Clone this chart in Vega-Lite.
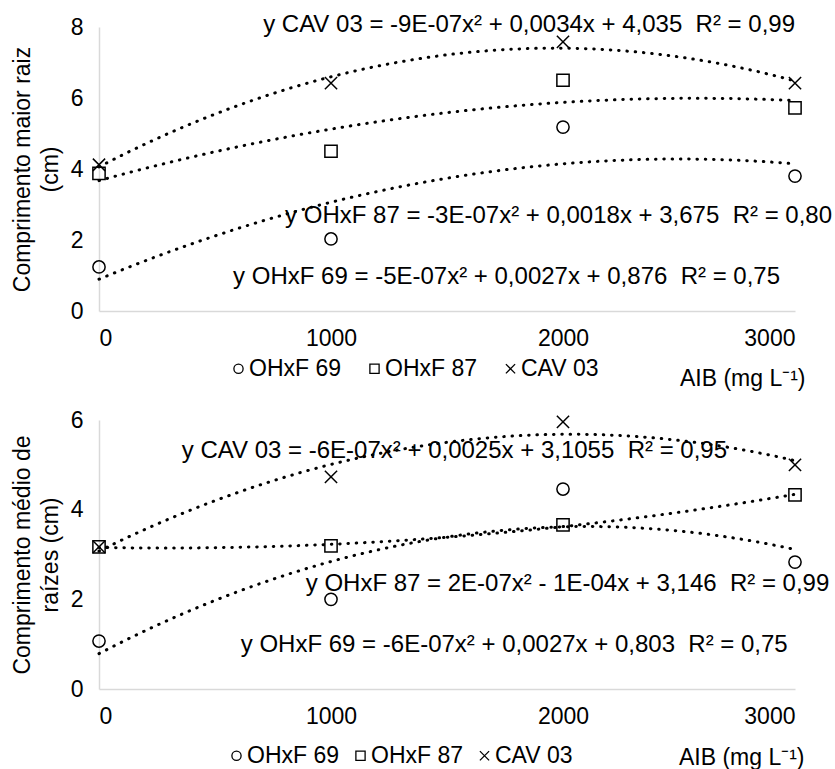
{
  "$schema": "https://vega.github.io/schema/vega-lite/v6.json",
  "padding": {"left": 11, "top": 13, "right": 5, "bottom": 0},
  "background": "white",
  "datasets": {
    "maior": [
      {"AIB": 0, "series": "OHxF 69", "value": 1.24},
      {"AIB": 1000, "series": "OHxF 69", "value": 2.03},
      {"AIB": 2000, "series": "OHxF 69", "value": 5.18},
      {"AIB": 3000, "series": "OHxF 69", "value": 3.8},
      {"AIB": 0, "series": "OHxF 87", "value": 3.88},
      {"AIB": 1000, "series": "OHxF 87", "value": 4.5},
      {"AIB": 2000, "series": "OHxF 87", "value": 6.5},
      {"AIB": 3000, "series": "OHxF 87", "value": 5.72},
      {"AIB": 0, "series": "CAV 03", "value": 4.12},
      {"AIB": 1000, "series": "CAV 03", "value": 6.42},
      {"AIB": 2000, "series": "CAV 03", "value": 7.58},
      {"AIB": 3000, "series": "CAV 03", "value": 6.42}
    ],
    "medio": [
      {"AIB": 0, "series": "OHxF 69", "value": 1.07},
      {"AIB": 1000, "series": "OHxF 69", "value": 2.0},
      {"AIB": 2000, "series": "OHxF 69", "value": 4.46},
      {"AIB": 3000, "series": "OHxF 69", "value": 2.83},
      {"AIB": 0, "series": "OHxF 87", "value": 3.17},
      {"AIB": 1000, "series": "OHxF 87", "value": 3.19},
      {"AIB": 2000, "series": "OHxF 87", "value": 3.66},
      {"AIB": 3000, "series": "OHxF 87", "value": 4.33},
      {"AIB": 0, "series": "CAV 03", "value": 3.17},
      {"AIB": 1000, "series": "CAV 03", "value": 4.73},
      {"AIB": 2000, "series": "CAV 03", "value": 5.96},
      {"AIB": 3000, "series": "CAV 03", "value": 5.0}
    ]
  },
  "config": {
    "font": "Liberation Sans",
    "view": {"stroke": null},
    "axis": {
      "labelFont": "Liberation Sans", "labelFontSize": 23, "labelColor": "#000000",
      "titleFont": "Liberation Sans", "titleFontSize": 23, "titleFontWeight": "normal", "titleColor": "#000000",
      "domainColor": "#d9d9d9", "domainWidth": 1.5, "ticks": false, "grid": false, "labelPadding": 16
    },
    "legend": {
      "labelFont": "Liberation Sans", "labelFontSize": 23, "labelColor": "#000000"
    },
    "text": {"font": "Liberation Sans", "fontSize": 24, "color": "#000000"}
  },
  "bounds": "flush",
  "spacing": 109,
  "resolve": {"scale": {"shape": "independent"}, "legend": {"shape": "independent"}},
  "vconcat": [
    {
      "width": 696, "height": 284,
      "data": {"name": "maior"},
      "layer": [
        {
          "transform": [{"regression": "value", "on": "AIB", "groupby": ["series"], "method": "poly", "order": 2, "extent": [0, 3000]}],
          "mark": {"type": "line", "stroke": "black", "strokeWidth": 3, "strokeDash": [0.5, 7.8], "strokeCap": "round", "interpolate": "monotone"},
          "encoding": {
            "x": {"field": "AIB", "type": "quantitative", "scale": {"domain": [0, 3000]},
                  "axis": {"values": [0, 1000, 2000, 3000], "format": "d", "title": "AIB (mg L⁻¹)", "titleX": 706, "titleAlign": "right", "titleY": 67, "titleBaseline": "middle", "labelPadding": 16}},
            "y": {"field": "value", "type": "quantitative", "scale": {"domain": [0, 8]},
                  "axis": {"values": [0, 2, 4, 6, 8], "title": ["Comprimento maior raiz", "(cm)"], "titlePadding": 8, "titleLineHeight": 28}},
            "detail": {"field": "series"}
          }
        },
        {
          "mark": {"type": "point", "filled": false, "stroke": "black", "strokeWidth": 1.5, "size": 150, "opacity": 1},
          "encoding": {
            "x": {"field": "AIB", "type": "quantitative"},
            "y": {"field": "value", "type": "quantitative"},
            "shape": {"field": "series", "type": "nominal",
              "scale": {"domain": ["OHxF 69", "OHxF 87", "CAV 03"], "range": ["circle", "square", "M-1,-1L1,1M1,-1L-1,1"]},
              "legend": {"title": null, "orient": "none", "direction": "horizontal", "legendX": 128, "legendY": 330, "columnPadding": 21, "labelOffset": -1, "symbolSize": 85, "symbolStrokeWidth": 1.3, "symbolStrokeColor": "black"}}
          }
        },
        {
          "data": {"values": [{"label": "y CAV 03 = -9E-07x² + 0,0034x + 4,035\u00a0 R² = 0,99"}]},
          "mark": {"type": "text", "align": "right", "baseline": "middle"},
          "encoding": {"x": {"datum": 3000}, "y": {"datum": 8.05}, "text": {"field": "label"}}
        },
        {
          "data": {"values": [{"label": "y OHxF 87 = -3E-07x² + 0,0018x + 3,675\u00a0 R² = 0,80"}]},
          "mark": {"type": "text", "align": "left", "baseline": "middle"},
          "encoding": {"x": {"datum": 802}, "y": {"datum": 2.68}, "text": {"field": "label"}}
        },
        {
          "data": {"values": [{"label": "y OHxF 69 = -5E-07x² + 0,0027x + 0,876\u00a0 R² = 0,75"}]},
          "mark": {"type": "text", "align": "left", "baseline": "middle"},
          "encoding": {"x": {"datum": 578}, "y": {"datum": 0.96}, "text": {"field": "label"}}
        }
      ]
    },
    {
      "width": 696, "height": 269,
      "data": {"name": "medio"},
      "layer": [
        {
          "transform": [{"regression": "value", "on": "AIB", "groupby": ["series"], "method": "poly", "order": 2, "extent": [0, 3000]}],
          "mark": {"type": "line", "stroke": "black", "strokeWidth": 3, "strokeDash": [0.5, 7.8], "strokeCap": "round", "interpolate": "monotone"},
          "encoding": {
            "x": {"field": "AIB", "type": "quantitative", "scale": {"domain": [0, 3000]},
                  "axis": {"values": [0, 1000, 2000, 3000], "format": "d", "title": "AIB (mg L⁻¹)", "titleX": 705, "titleAlign": "right", "titleY": 68, "titleBaseline": "middle", "labelPadding": 16}},
            "y": {"field": "value", "type": "quantitative", "scale": {"domain": [0, 6]},
                  "axis": {"values": [0, 2, 4, 6], "title": ["Comprimento médio de", "raízes (cm)"], "titlePadding": 8, "titleLineHeight": 28}},
            "detail": {"field": "series"}
          }
        },
        {
          "mark": {"type": "point", "filled": false, "stroke": "black", "strokeWidth": 1.5, "size": 150, "opacity": 1},
          "encoding": {
            "x": {"field": "AIB", "type": "quantitative"},
            "y": {"field": "value", "type": "quantitative"},
            "shape": {"field": "series", "type": "nominal",
              "scale": {"domain": ["OHxF 69", "OHxF 87", "CAV 03"], "range": ["circle", "square", "M-1,-1L1,1M1,-1L-1,1"]},
              "legend": {"title": null, "orient": "none", "direction": "horizontal", "legendX": 126, "legendY": 324, "columnPadding": 9, "labelOffset": -1, "symbolSize": 85, "symbolStrokeWidth": 1.3, "symbolStrokeColor": "black"}}
          }
        },
        {
          "data": {"values": [{"label": "y CAV 03 = -6E-07x² + 0,0025x + 3,1055\u00a0 R² = 0,95"}]},
          "mark": {"type": "text", "align": "left", "baseline": "middle"},
          "encoding": {"x": {"datum": 357}, "y": {"datum": 5.31}, "text": {"field": "label"}}
        },
        {
          "data": {"values": [{"label": "y OHxF 87 = 2E-07x² - 1E-04x + 3,146\u00a0 R² = 0,99"}]},
          "mark": {"type": "text", "align": "left", "baseline": "middle"},
          "encoding": {"x": {"datum": 891}, "y": {"datum": 2.34}, "text": {"field": "label"}}
        },
        {
          "data": {"values": [{"label": "y OHxF 69 = -6E-07x² + 0,0027x + 0,803\u00a0 R² = 0,75"}]},
          "mark": {"type": "text", "align": "left", "baseline": "middle"},
          "encoding": {"x": {"datum": 611}, "y": {"datum": 0.98}, "text": {"field": "label"}}
        }
      ]
    }
  ]
}
